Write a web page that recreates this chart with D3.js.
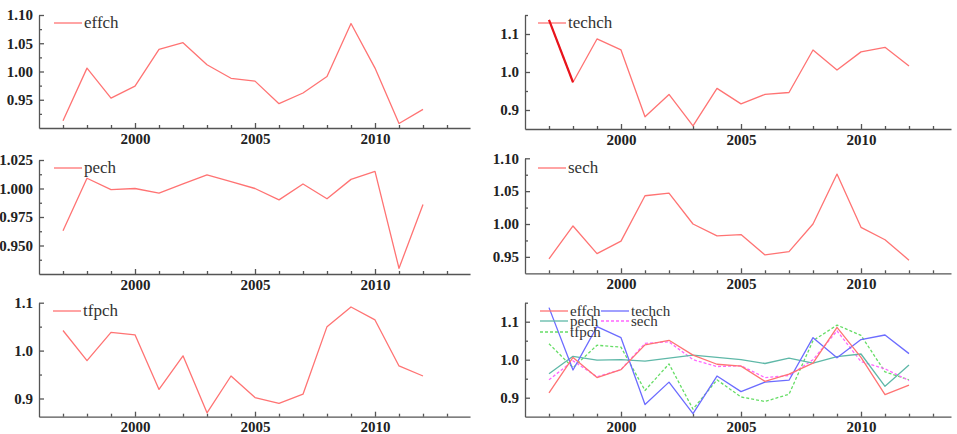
<!DOCTYPE html>
<html>
<head>
<meta charset="utf-8">
<script src="https://cdn.jsdelivr.net/npm/d3@7"></script>
<style>
body{margin:0;background:#fff;}
svg{display:block;}
</style>
</head>
<body>
<svg id="chart" width="957" height="434"></svg>
<script>
// values
var years=[1997,1998,1999,2000,2001,2002,2003,2004,2005,2006,2007,2008,2009,2010,2011,2012];
var effch =[0.913,1.006,0.953,0.974,1.039,1.051,1.012,0.988,0.983,0.943,0.962,0.991,1.085,1.006,0.908,0.933];
var techch=[1.137,0.973,1.087,1.058,0.882,0.941,0.858,0.957,0.916,0.941,0.946,1.058,1.005,1.053,1.065,1.016];
var pech  =[0.963,1.009,0.999,1.000,0.996,1.004,1.012,1.006,1.000,0.990,1.004,0.991,1.008,1.015,0.930,0.986];
var sech  =[0.947,0.997,0.955,0.974,1.043,1.047,1.000,0.982,0.984,0.953,0.958,1.000,1.076,0.995,0.976,0.945];
var tfpch =[1.042,0.979,1.038,1.033,0.919,0.989,0.870,0.947,0.902,0.890,0.909,1.050,1.091,1.064,0.968,0.947];
var xMajor=[2000,2005,2010];
var xMinor=[1997,1998,1999,2001,2002,2003,2004,2006,2007,2008,2009,2011,2012,2013];

var serif='"Liberation Serif","Times New Roman",Times,"DejaVu Serif",serif';
var svg=d3.select("#chart");
var red="#ff7373";

// one panel: left x, top/bottom px, y domain, tick lists
function panel(p){
	var g=svg.append("g");
	var x=d3.scaleLinear().domain([1996,p.xend]).range([p.left,p.left+(p.xend-1996)*24]);
	var y=d3.scaleLinear().domain(p.dom).range([p.bottom,p.top]);
	var ax=g.append("g").attr("transform","translate(0,"+p.bottom+")");
	ax.call(d3.axisBottom(x).tickValues(xMajor).tickFormat(d3.format("d")).tickSizeInner(-5).tickSizeOuter(0).tickPadding(5));
	ax.append("g").call(d3.axisBottom(x).tickValues(xMinor).tickFormat("").tickSizeInner(-3).tickSizeOuter(0)).select(".domain").remove();
	var ay=g.append("g").attr("transform","translate("+p.left+",0)");
	ay.call(d3.axisLeft(y).tickValues(p.major).tickFormat(d3.format(p.fmt)).tickSizeInner(-5).tickSizeOuter(0).tickPadding(6));
	ay.append("g").call(d3.axisLeft(y).tickValues(p.minor).tickFormat("").tickSizeInner(-3).tickSizeOuter(0)).select(".domain").remove();
	g.selectAll(".domain,.tick line").attr("stroke","#555").attr("stroke-width",1.3);
	g.selectAll("g").attr("font-family",null).attr("font-size",null);
	g.selectAll(".tick text").attr("fill","#222").style("font-family",serif).style("font-weight","bold").style("font-size","15px");
	p.x=x;p.y=y;p.g=g;
	return p;
}
function addLine(p,vals,color,dash){
	var line=d3.line().x(function(d,i){return p.x(years[i]);}).y(function(d){return p.y(d);});
	p.g.append("path").datum(vals).attr("d",line).attr("fill","none").attr("stroke",color)
		.attr("stroke-width",1.3).attr("stroke-dasharray",dash||null).attr("stroke-linejoin","round");
}
function legend(p,lx,ly,name,color,dash,size){
	p.g.append("line").attr("x1",lx).attr("x2",lx+28).attr("y1",ly).attr("y2",ly)
		.attr("stroke",color).attr("stroke-width",1.3).attr("stroke-dasharray",dash||null);
	p.g.append("text").attr("x",lx+30).attr("y",ly+(size||17)*0.3)
		.style("font-family",serif).style("font-size",(size||17)+"px").attr("fill","#333").text(name);
}

var p1=panel({left:39,xend:2013.96,top:15,bottom:128,dom:[0.9,1.1],major:[0.95,1.0,1.05,1.1],minor:[0.925,0.975,1.025,1.075],fmt:".2f"});
addLine(p1,effch,red);legend(p1,54,23,"effch",red);

var p2=panel({left:525,xend:2013.75,top:15,bottom:129,dom:[0.85,1.15],major:[0.9,1.0,1.1],minor:[0.95,1.05,1.15],fmt:".1f"});
addLine(p2,techch,red);legend(p2,538,23,"techch",red);
// the darker first stroke seen in the picture
p2.g.append("path").datum(techch.slice(0,2))
	.attr("d",d3.line().x(function(d,i){return p2.x(years[i]);}).y(function(d){return p2.y(d);}))
	.attr("fill","none").attr("stroke","#e8141c").attr("stroke-width",2.2);

var p3=panel({left:39,xend:2013.96,top:160,bottom:274,dom:[0.925,1.025],major:[0.95,0.975,1.0,1.025],minor:[0.9375,0.9625,0.9875,1.0125],fmt:".3f"});
addLine(p3,pech,red);legend(p3,54,168,"pech",red);

var p4=panel({left:525,xend:2013.75,top:158.3,bottom:273.3,dom:[0.925,1.1],major:[0.95,1.0,1.05,1.1],minor:[0.975,1.025,1.075],fmt:".2f"});
addLine(p4,sech,red);legend(p4,538,168,"sech",red);

var p5=panel({left:39,xend:2013.96,top:302.7,bottom:416.7,dom:[0.862,1.1],major:[0.9,1.0,1.1],minor:[0.95,1.05],fmt:".1f"});
addLine(p5,tfpch,red);legend(p5,53,311,"tfpch",red);

var p6=panel({left:525,xend:2013.75,top:302.7,bottom:416.7,dom:[0.85,1.15],major:[0.9,1.0,1.1],minor:[0.95,1.05,1.15],fmt:".1f"});
var teal="#5fb8a8",blue="#6c6cff",green="#66dd66",pink="#ff66ff";
addLine(p6,tfpch,green,"3,2");
addLine(p6,sech,pink,"3,2");
addLine(p6,pech,teal);
addLine(p6,techch,blue);
addLine(p6,effch,red);
legend(p6,540,311,"effch",red,null,15);
legend(p6,540,321,"pech",teal,null,15);
legend(p6,540,332,"tfpch",green,"3,2",15);
legend(p6,601,311,"techch",blue,null,15);
legend(p6,601,321,"sech",pink,"3,2",15);
</script>
</body>
</html>
